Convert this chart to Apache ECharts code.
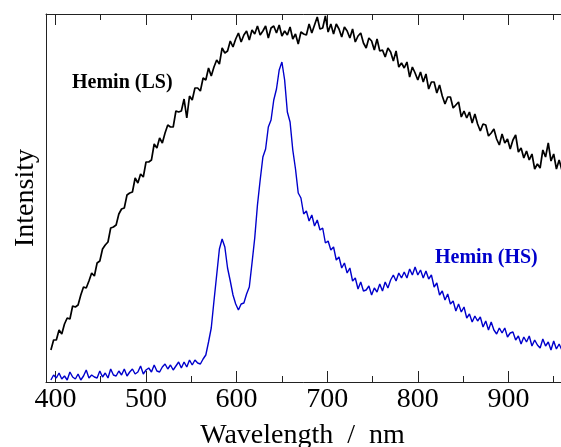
<!DOCTYPE html>
<html>
<head>
<meta charset="utf-8">
<script src="https://cdn.jsdelivr.net/npm/echarts@6/dist/echarts.min.js"></script>
<style>
  html, body { margin: 0; padding: 0; background: #fff; }
  #chart { width: 561px; height: 447px; }
</style>
</head>
<body>
<div id="chart"></div>
<script>
/* wavelength grid, nm */
const wavelengths = [395,398,401,404,407,410,413,416,419,422,425,428,431,434,437,440,443,446,449,452,
  455,458,461,464,467,470,473,476,479,482,485,488,491,494,497,500,503,506,509,512,
  515,518,521,524,527,530,533,536,539,542,545,548,551,554,557,560,563,566,569,572,
  575,578,581,584,587,590,593,596,599,602,605,608,611,614,617,620,623,626,629,632,
  635,638,641,644,647,650,653,656,659,662,665,668,671,674,677,680,683,686,689,692,
  695,698,701,704,707,710,713,716,719,722,725,728,731,734,737,740,743,746,749,752,
  755,758,761,764,767,770,773,776,779,782,785,788,791,794,797,800,803,806,809,812,
  815,818,821,824,827,830,833,836,839,842,845,848,851,854,857,860,863,866,869,872,
  875,878,881,884,887,890,893,896,899,902,905,908,911,914,917,920,923,926,929,932,
  935,938,941,944,947,950,953,956,959];

/* Hemin (LS), arbitrary units */
const heminLS = [32,42,42,52,48,58,64,63,76,75,77,87,95,94,101,109,106,119,121,133,
  137,140,154,155,157,168,173,174,187,189,190,204,199,208,205,220,220,222,238,234,
  244,239,249,257,255,255,271,270,271,283,264,286,282,294,294,291,304,302,314,306,
  315,322,318,334,329,331,341,335,343,349,340,347,351,342,352,348,356,347,351,356,
  344,354,356,349,357,346,351,347,355,343,348,338,350,348,347,358,349,357,365,353,
  354,366,350,358,348,358,353,345,355,351,344,353,340,346,349,339,334,344,341,332,
  343,331,332,325,334,330,321,331,315,319,314,320,305,315,309,302,310,300,308,293,
  300,300,289,297,286,278,285,285,274,277,280,265,271,264,270,259,268,258,251,258,
  257,246,249,253,243,237,248,239,243,233,242,247,230,234,224,231,222,228,213,218,
  214,232,225,239,221,228,213,222,212];

/* Hemin (HS), arbitrary units */
const heminHS = [2,7,4,9,3,6,2,10,5,3,8,2,6,12,4,7,5,4,11,5,
  9,4,13,7,6,11,7,13,6,10,13,8,10,16,8,12,14,10,17,11,
  10,15,18,13,17,12,16,20,14,20,15,22,17,22,19,18,23,27,40,54,
  81,107,133,143,135,114,101,87,78,72,78,79,88,95,119,144,177,202,225,233,
  255,262,282,293,312,320,302,270,260,232,213,189,184,168,171,161,167,156,162,152,
  154,139,141,132,135,122,125,114,119,109,114,101,104,93,100,91,92,96,87,94,
  90,98,91,100,94,102,107,101,109,104,110,104,113,107,115,107,112,104,111,103,
  107,95,99,87,91,82,88,78,81,71,78,70,75,64,68,60,66,61,65,55,
  61,52,60,52,48,54,49,54,45,49,50,42,46,38,45,40,46,36,42,37,
  34,43,36,40,32,41,33,38,32];

const xTicks = [400, 500, 600, 700, 800, 900];

const serif = 'Liberation Serif, Times New Roman, serif';
const axisColor = '#222';
const blue = '#0000cc';

const chart = echarts.init(document.getElementById('chart'), null, { renderer: 'canvas' });

// axis runs past the right edge of the canvas, like the cropped original
const baseX = {
    type: 'value',
    min: 389.6,
    max: 1000,
    splitNumber: 6,
    splitLine: { show: false },
    axisLine: { show: true, lineStyle: { color: axisColor, width: 1 } },
    axisTick: { show: true, inside: true, length: 11, lineStyle: { color: axisColor } },
    minorTick: { show: true, splitNumber: 2, length: 6, lineStyle: { color: axisColor } },
};

chart.setOption({
    animation: false,
    backgroundColor: '#fff',
    grid: { left: 46, right: -38, top: 14, bottom: 65, containLabel: false, outerBoundsMode: 'none' },
    xAxis: [
        {
            ...baseX,
            position: 'bottom',
            name: 'Wavelength  /  nm',
            nameLocation: 'middle',
            nameGap: 40,
            // pull the title back to the middle of the visible part
            nameTextStyle: { fontFamily: serif, fontSize: 28, color: '#000', padding: [0, 40, 0, 0] },
            axisLabel: {
                show: true,
                margin: 4,
                fontFamily: serif,
                fontSize: 28,
                color: '#000',
                formatter: v => xTicks.includes(v) ? String(v) : '',
            },
        },
        {
            ...baseX,
            position: 'top',
            axisLabel: { show: false },
        },
    ],
    yAxis: {
        type: 'value',
        min: 0,
        max: 368,
        axisLine: { show: true, lineStyle: { color: axisColor, width: 1 } },
        axisTick: { show: false },
        axisLabel: { show: false },
        splitLine: { show: false },
        name: 'Intensity',
        nameLocation: 'middle',
        nameGap: 6,
        nameTextStyle: { fontFamily: serif, fontSize: 28, color: '#000' },
    },
    series: [
        {
            name: 'Hemin (LS)',
            type: 'line',
            xAxisIndex: 0,
            data: wavelengths.map((w, i) => [w, heminLS[i]]),
            showSymbol: false,
            lineStyle: { color: '#000', width: 1.7 },
        },
        {
            name: 'Hemin (HS)',
            type: 'line',
            xAxisIndex: 0,
            data: wavelengths.map((w, i) => [w, heminHS[i]]),
            showSymbol: false,
            lineStyle: { color: blue, width: 1.4 },
        },
    ],
    graphic: [
        {
            type: 'text',
            left: 72, top: 73,
            style: { text: 'Hemin (LS)', font: 'bold 20px ' + serif, fill: '#000' },
        },
        {
            type: 'text',
            left: 435, top: 248,
            style: { text: 'Hemin (HS)', font: 'bold 20px ' + serif, fill: blue },
        },
    ],
});
</script>
</body>
</html>
